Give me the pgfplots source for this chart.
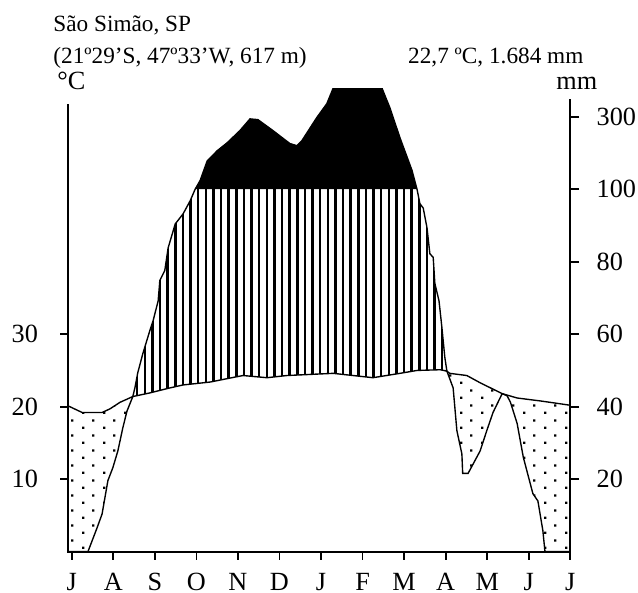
\documentclass[border=0pt]{standalone}
\usepackage{fontspec}
\setmainfont{Liberation Serif}
\usepackage{pgfplots}
\usepackage{pgfplotstable}
\pgfplotsset{compat=1.18}
\usetikzlibrary{patterns,patterns.meta}

% staggered dot grid for the dry season
\pgfdeclarepatternformonly{climdots}{\pgfqpoint{0pt}{0pt}}{\pgfqpoint{8.2pt}{5.9pt}}{\pgfqpoint{8.2pt}{5.9pt}}{%
  \pgfpathrectangle{\pgfqpoint{0pt}{0pt}}{\pgfqpoint{1pt}{1pt}}%
  \pgfpathrectangle{\pgfqpoint{4.1pt}{2.95pt}}{\pgfqpoint{1pt}{1pt}}%
  \pgfusepath{fill}}

\newcommand\tickfont{\fontsize{10.5}{12}\selectfont}
\newcommand\headfont{\fontsize{9.3}{11}\selectfont}

% x: months from July (0) to July (12); y: degC, mm/2 up to 100 mm, then 1:20
\pgfplotstableread{
m t
-0.083 20.1
0.25 19.2
0.73 19.2
0.92 19.7
1.16 20.6
1.47 21.4
1.88 21.9
2.37 22.6
2.68 23.0
3.33 23.4
4.12 24.3
4.70 24.0
5.18 24.3
6.29 24.6
7.25 24.0
7.90 24.6
8.31 25.0
8.87 25.1
9.03 24.9
9.10 24.6
9.51 24.3
9.83 23.3
10.36 21.8
10.72 21.2
11.27 20.8
12.00 20.2
}\temptab

\pgfplotstableread{
m p
-0.083 0
0.39 0
0.61 3.3
0.73 5.2
0.87 9.8
0.99 11.6
1.11 13.9
1.23 17.1
1.33 19.4
1.47 21.4
1.52 22.6
1.59 24.7
1.71 27.3
1.88 30.5
1.96 31.9
2.08 34.6
2.12 37.4
2.24 38.8
2.32 41.9
2.49 45.2
2.68 46.6
2.85 48.4
2.97 50.0
3.09 51.2
3.26 53.9
3.50 55.3
3.74 56.4
4.05 58.1
4.29 59.7
4.48 59.6
4.84 58.1
5.25 56.3
5.42 56.0
5.54 56.7
5.90 59.9
6.14 61.8
6.29 63.9
6.60 66.5
7.10 66.5
7.47 63.9
7.66 61.2
7.90 57.1
8.19 52.6
8.31 50.0
8.38 48.0
8.46 47.4
8.55 44.7
8.62 41.1
8.70 40.6
8.74 37.0
8.84 34.6
8.91 30.9
8.98 26.8
9.03 24.9
9.18 22.6
9.27 16.7
9.39 13.5
9.41 10.8
9.54 10.8
9.83 13.9
9.99 16.7
10.14 19.2
10.36 21.8
10.48 21.5
10.56 20.6
10.72 17.7
10.87 13.0
11.10 8.0
11.22 7.0
11.34 2.9
11.39 0
12.00 0
}\prectab

\begin{document}
\begin{tikzpicture}
\path[use as bounding box] (0,0) rectangle (255.2pt,237.2pt);

\begin{axis}[
    at={(27.32pt,16.52pt)}, anchor=south west,
    scale only axis, width=200.8pt, height=185.3pt,
    xmin=-0.083, xmax=12, ymin=0, ymax=63.9,
    axis lines*=left, axis line style={draw=none},
    xtick={0,...,12},
    xticklabels={J,A,S,O,N,D,J,F,M,A,M,J,J},
    ytick={10,20,30},
    tick align=outside, major tick length=3.3pt,
    tick style={black,line width=0.7pt},
    tick label style={font=\tickfont},
    /pgf/number format/assume math mode=true,
    yticklabel style={anchor=east,xshift=-5.3pt},
    xticklabel style={anchor=base,yshift=-12.4pt},
]
% dry season: dots between temperature and rain
\addplot[draw=none,pattern=climdots] table[x=m,y=t]{\temptab} \closedcycle;
\addplot[draw=none,fill=white] table[x=m,y=p]{\prectab} \closedcycle;
% humid season: vertical lines between temperature and rain
\addplot[draw=none,pattern={Lines[angle=90,distance=3.05pt,line width=1pt]},
    restrict x to domain=1.47:9.03] table[x=m,y=p]{\prectab} \closedcycle;
\addplot[draw=none,fill=white,restrict x to domain=1.47:9.03]
    table[x=m,y=t]{\temptab} \closedcycle;
% over 100 mm: black
\addplot[draw=none,fill=black,restrict x to domain=2.97:8.31]
    table[x=m,y=p]{\prectab} -- cycle;
% curves
\addplot[black,line width=0.55pt] table[x=m,y=t]{\temptab};
\addplot[black,line width=0.55pt] table[x=m,y=p]{\prectab};

\coordinate (LT) at (axis cs:-0.083,61.7);
\coordinate (LB) at (axis cs:-0.083,0);
\coordinate (RB) at (axis cs:12,0);
\coordinate (RT) at (axis cs:12,62.5);
\end{axis}

\begin{axis}[
    at={(27.32pt,16.52pt)}, anchor=south west,
    scale only axis, width=200.8pt, height=185.3pt,
    xmin=-0.083, xmax=12, ymin=0, ymax=63.9,
    axis x line=none, axis y line*=right, axis line style={draw=none},
    ytick={10,20,30,40,50,60},
    yticklabels={20,40,60,80,100,300},
    tick align=outside, major tick length=3.5pt,
    tick style={black,line width=0.7pt},
    tick label style={font=\tickfont},
    yticklabel style={anchor=west,xshift=3.5pt},
]
\addplot[draw=none] table[x=m,y=t]{\temptab};
\end{axis}

\draw[line width=0.7pt] (LT) -- (LB) -- (RB) -- (RT);

\node[anchor=base west,inner sep=0pt,font=\headfont] at (21.2pt,224.4pt) {São Simão, SP};
\node[anchor=base west,inner sep=0pt,font=\headfont] at (21.2pt,211.6pt) {(21º29’S, 47º33’W, 617 m)};
\node[anchor=base west,inner sep=0pt,font=\headfont] at (163.1pt,211.6pt) {22,7 ºC, 1.684 mm};
\node[anchor=base west,inner sep=0pt,font=\tickfont] at (22.8pt,201.2pt) {°C};
\node[anchor=base west,inner sep=0pt,font=\tickfont] at (222.4pt,201.2pt) {mm};
\end{tikzpicture}
\end{document}
